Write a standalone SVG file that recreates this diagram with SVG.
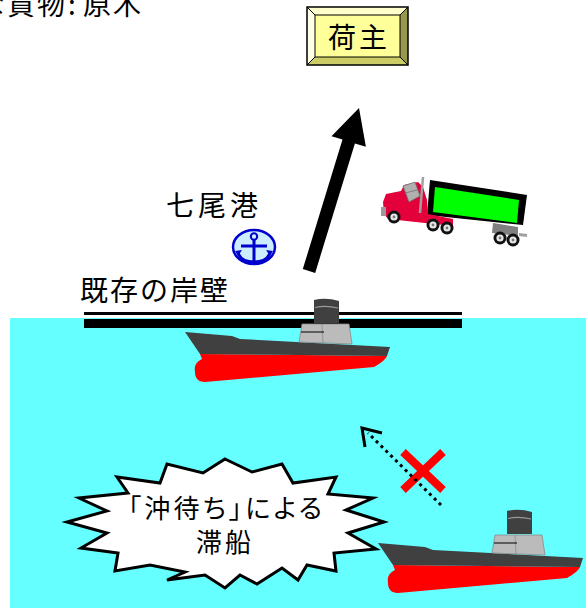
<svg xmlns="http://www.w3.org/2000/svg" xmlns:xlink="http://www.w3.org/1999/xlink" width="586" height="608" viewBox="0 0 586 608">
  <style>
    .jp { font-family: "Noto Sans CJK JP", "Noto Sans", sans-serif; fill: #000; }
    .prop { font-feature-settings: "palt"; }
    .hull { fill: #404040; }
    .keel { fill: #ff0000; }
    .house { fill: #bbbbbb; stroke: #8a8a8a; stroke-width: 0.8; }
    .tire { fill: #111; }
    .hub { fill: #e8e8e8; }
    .hubc { fill: #777; }
  </style>
  <defs>
    <!-- cargo ship, local origin at bow tip -->
    <g id="ship">
      <path class="keel" d="M15,22 L17,27 C11,30 9,34 10,40 C10,46 13,50 20,50 L189,35 C196,31 200,28 202,24 Z"/>
      <path class="hull" d="M0,0 L47,4 L55,7 L205,15 L202,24 L15,22 Z"/>
      <path class="hull" d="M129,-32 Q141,-35 154,-31 L154,-9 L129,-9 Z"/>
      <path d="M130,-24.5 Q141,-27 153,-24" fill="none" stroke="#9a9a9a" stroke-width="1.2"/>
      <path class="house" d="M117,-8 L164,-8 L167,12 L114,10 Z"/>
      <line x1="137" y1="-8" x2="138" y2="11" stroke="#8a8a8a" stroke-width="0.8"/>
      <line x1="116" y1="0" x2="139" y2="0" stroke="#000" stroke-width="1"/>
    </g>
    <g id="wheel">
      <circle class="tire" r="6.5"/>
      <circle class="hub" r="3.6"/>
      <circle class="hubc" r="1.4"/>
    </g>
  </defs>

  <!-- background -->
  <rect width="586" height="608" fill="#ffffff"/>
  <!-- sea -->
  <rect x="10" y="318" width="576" height="290" fill="#66ffff"/>

  <!-- caption -->
  <g id="caption">
    <text class="jp" font-size="28" y="15" x="-53 -23 7 37 68 83 113">主な貨物:原木</text>
  </g>

  <!-- shipper box -->
  <g id="node-shipper">
    <rect x="307" y="7" width="101" height="58" fill="#ffff99"/>
    <polygon points="307,7 408,7 400,15 315,15" fill="#ffffcc"/>
    <polygon points="307,7 315,15 315,57 307,65" fill="#ffffe6"/>
    <polygon points="408,7 408,65 400,57 400,15" fill="#99994d"/>
    <polygon points="307,65 408,65 400,57 315,57" fill="#cccc66"/>
    <g stroke="#000" stroke-width="1" fill="none">
      <line x1="307" y1="7" x2="315" y2="15"/>
      <line x1="408" y1="7" x2="400" y2="15"/>
      <line x1="307" y1="65" x2="315" y2="57"/>
      <line x1="408" y1="65" x2="400" y2="57"/>
      <rect x="315" y="15" width="85" height="42"/>
    </g>
    <rect x="307" y="7" width="101" height="58" fill="none" stroke="#000" stroke-width="1.5"/>
    <text class="jp" x="328" y="48" font-size="28" textLength="59" lengthAdjust="spacing">荷主</text>
  </g>

  <!-- port name and mark -->
  <g id="node-port">
    <text class="jp" x="166" y="216" font-size="28" textLength="92" lengthAdjust="spacing">七尾港</text>
  </g>
  <g id="node-anchor">
    <ellipse cx="254" cy="247" rx="21" ry="17" fill="#ccecff" stroke="#0000cc" stroke-width="2.5"/>
    <g stroke="#0000cc" stroke-width="3" fill="none">
      <circle cx="254" cy="236.5" r="3.2" stroke-width="2"/>
      <line x1="254" y1="240" x2="254" y2="262"/>
      <line x1="241" y1="246" x2="267" y2="246"/>
      <path d="M238,252 Q240,262 254,262 Q268,262 270,252"/>
    </g>
    <polygon points="235,251 242,250 238,256" fill="#0000cc"/>
    <polygon points="273,251 266,250 270,256" fill="#0000cc"/>
  </g>

  <!-- truck -->
  <g id="node-truck">
    <polygon points="430,180 527,195 523,225 427,215" fill="#000"/>
    <polygon points="435,187 519,200 517,223 433,212" fill="#00ff00"/>
    <polygon points="493,223 518,227 518,236 492,233" fill="#808080"/>
    <polygon points="519,233 527,234 527,237 519,236" fill="#a0a0a0"/>
    <path d="M383,202 L386,194 L401,191 L404,185 L418,182 L423,187 L427,200 L428,214 L453,219 L453,226 L425,223 L388,219 L384,214 Z" fill="#e4003a"/>
    <rect x="381" y="207" width="5" height="9" fill="#9a9a9a"/>
    <polygon points="403,186 415,182 420,196 409,202" fill="#b0b0b0" stroke="#707070" stroke-width="0.8"/>
    <line x1="405" y1="193" x2="417" y2="190" stroke="#707070" stroke-width="0.8"/>
    <line x1="423" y1="177" x2="420" y2="213" stroke="#a0a0a0" stroke-width="2.5"/>
    <use xlink:href="#wheel" transform="translate(394,217)"/>
    <use xlink:href="#wheel" transform="translate(433,225)"/>
    <use xlink:href="#wheel" transform="translate(447,228)"/>
    <use xlink:href="#wheel" transform="translate(500,238)"/>
    <use xlink:href="#wheel" transform="translate(513,240)"/>
  </g>

  <!-- existing quay -->
  <g id="node-quay">
    <text class="jp" x="80" y="301" font-size="28" textLength="148" lengthAdjust="spacing">既存の岸壁</text>
    <rect x="84" y="312" width="378" height="3" fill="#000"/>
    <rect x="84" y="319" width="378" height="9" fill="#000"/>
  </g>

  <!-- berthed ship -->
  <g id="node-ship-berthed">
    <use xlink:href="#ship" transform="translate(185,332)"/>
  </g>

  <!-- waiting ship offshore -->
  <g id="node-ship-waiting">
    <use xlink:href="#ship" transform="translate(378,543)"/>
  </g>

  <!-- congestion burst -->
  <g id="node-burst">
    <polygon fill="#ffffff" stroke="#000" stroke-width="3" stroke-linejoin="miter"
      points="225,459 252,472 282,464 293,483 336,477 328,494 373,498 346,510 384,522 348,533 376,549 334,553 336,571 307,565 298,580 282,568 257,584 240,575 225,588 205,575 167,580 185,572 150,565 115,571 118,553 81,548 107,533 67,522 107,511 79,498 128,493 117,477 160,483 167,464 203,473"/>
    <text class="jp prop" x="225" y="518" font-size="26" text-anchor="middle" textLength="194" lengthAdjust="spacing">「沖待ち」による</text>
    <text class="jp" x="225" y="552" font-size="26" text-anchor="middle" letter-spacing="3">滞船</text>
  </g>

  <!-- rejected route mark -->
  <g id="node-cross">
    <g stroke="#ff0000" stroke-width="8">
      <line x1="403" y1="452" x2="443" y2="490"/>
      <line x1="443" y1="452" x2="403" y2="490"/>
    </g>
  </g>

  <!-- connectors -->
  <g id="connectors">
    <polygon fill="#000" points="302.8,269.1 315.2,272.9 354.9,143.4 365.9,146.8 359,108 331.5,136.2 342.5,139.6"/>
    <line x1="441" y1="505" x2="368" y2="433" stroke="#000" stroke-width="3" stroke-dasharray="3 3.8"/>
    <polyline points="382,433 362,428 365,447" fill="none" stroke="#000" stroke-width="3"/>
  </g>
</svg>
